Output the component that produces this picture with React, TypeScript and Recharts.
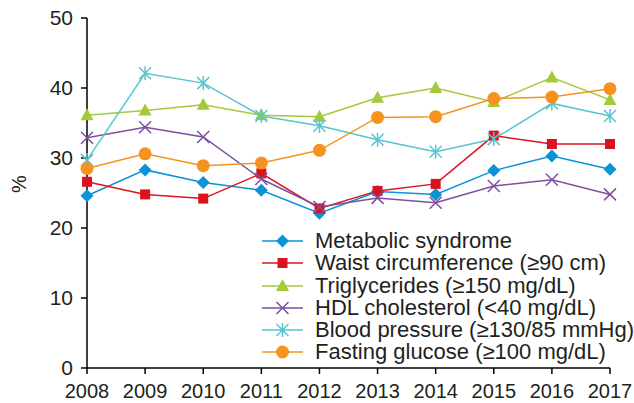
import { LineChart, Line, XAxis, YAxis } from 'recharts';

const years = [2008, 2009, 2010, 2011, 2012, 2013, 2014, 2015, 2016, 2017];
const yTicks = [0, 10, 20, 30, 40, 50];

const metabolic = [24.6, 28.3, 26.5, 25.4, 22.1, 25.2, 24.8, 28.2, 30.3, 28.4];
const waist = [26.6, 24.8, 24.2, 27.8, 22.8, 25.3, 26.3, 33.2, 32.0, 32.0];
const triglycerides = [36.1, 36.8, 37.6, 36.1, 35.9, 38.6, 40.0, 38.0, 41.5, 38.3];
const hdl = [32.9, 34.4, 33.0, 27.0, 23.0, 24.3, 23.6, 26.0, 26.9, 24.8];
const bloodPressure = [29.7, 42.1, 40.7, 36.0, 34.6, 32.6, 30.9, 32.7, 37.8, 36.0];
const glucose = [28.5, 30.6, 28.9, 29.3, 31.1, 35.8, 35.9, 38.5, 38.7, 39.9];

type Shape = 'diamond' | 'square' | 'triangle' | 'cross' | 'star' | 'circle';

const series: { key: string; name: string; color: string; shape: Shape; values: number[] }[] = [
  { key: 'metabolic', name: 'Metabolic syndrome', color: '#0a93d8', shape: 'diamond', values: metabolic },
  { key: 'waist', name: 'Waist circumference (≥90 cm)', color: '#d9141f', shape: 'square', values: waist },
  { key: 'tg', name: 'Triglycerides (≥150 mg/dL)', color: '#a4c93b', shape: 'triangle', values: triglycerides },
  { key: 'hdl', name: 'HDL cholesterol (<40 mg/dL)', color: '#7d4fa0', shape: 'cross', values: hdl },
  { key: 'bp', name: 'Blood pressure (≥130/85 mmHg)', color: '#56c5d0', shape: 'star', values: bloodPressure },
  { key: 'fg', name: 'Fasting glucose (≥100 mg/dL)', color: '#f6921e', shape: 'circle', values: glucose },
];

const data = years.map((year, i) => {
  const row: Record<string, number> = { year };
  series.forEach((s) => {
    row[s.key] = s.values[i];
  });
  return row;
});

const TEXT = '#231f20';
const FONT = '"Liberation Sans", Arial, sans-serif';

function Marker({ shape, cx, cy, color }: { shape: Shape; cx: number; cy: number; color: string }) {
  switch (shape) {
    case 'diamond':
      return <polygon points={`${cx},${cy - 6.5} ${cx + 6.5},${cy} ${cx},${cy + 6.5} ${cx - 6.5},${cy}`} fill={color} />;
    case 'square':
      return <rect x={cx - 5} y={cy - 5} width={10} height={10} fill={color} />;
    case 'triangle':
      return <polygon points={`${cx},${cy - 7} ${cx + 6.5},${cy + 5} ${cx - 6.5},${cy + 5}`} fill={color} />;
    case 'cross':
      return (
        <g stroke={color} strokeWidth={1.5}>
          <line x1={cx - 6} y1={cy - 6} x2={cx + 6} y2={cy + 6} />
          <line x1={cx - 6} y1={cy + 6} x2={cx + 6} y2={cy - 6} />
        </g>
      );
    case 'star':
      return (
        <g stroke={color} strokeWidth={1.5}>
          <line x1={cx - 6} y1={cy - 6} x2={cx + 6} y2={cy + 6} />
          <line x1={cx - 6} y1={cy + 6} x2={cx + 6} y2={cy - 6} />
          <line x1={cx} y1={cy - 7} x2={cx} y2={cy + 7} />
        </g>
      );
    default:
      return <circle cx={cx} cy={cy} r={6.5} fill={color} />;
  }
}

// legend sits inside the plot, bottom right
function ChartLegend() {
  return (
    <div style={{ position: 'absolute', left: 262, top: 230, fontFamily: FONT, fontSize: 22, color: TEXT, lineHeight: 1 }}>
      {series.map((s) => (
        <div key={s.key} style={{ display: 'flex', alignItems: 'center', height: 22.25 }}>
          <svg width={53} height={20} style={{ flex: 'none' }}>
            <line x1={0} y1={10} x2={41} y2={10} stroke={s.color} strokeWidth={1.5} />
            <Marker shape={s.shape} cx={20.5} cy={10} color={s.color} />
          </svg>
          <span style={{ whiteSpace: 'nowrap' }}>{s.name}</span>
        </div>
      ))}
    </div>
  );
}

export default function App() {
  return (
    <div style={{ position: 'absolute', left: 0, top: 0, width: 634, height: 403, background: '#fff' }}>
      <LineChart width={634} height={403} data={data} margin={{ top: 18, right: 24, bottom: 0, left: 27 }}>
        <XAxis
          dataKey="year"
          type="number"
          domain={[2008, 2017]}
          ticks={years}
          interval={0}
          height={35}
          tick={{ fill: TEXT, fontSize: 20, fontFamily: FONT }}
          tickSize={6}
          tickMargin={10}
          axisLine={{ stroke: '#000', strokeWidth: 1.5 }}
          tickLine={{ stroke: '#000', strokeWidth: 1.5 }}
        />
        <YAxis
          domain={[0, 50]}
          ticks={yTicks}
          interval={0}
          width={60}
          tick={{ fill: TEXT, fontSize: 21, fontFamily: FONT }}
          tickSize={6}
          tickMargin={8}
          axisLine={{ stroke: '#000', strokeWidth: 1.5 }}
          tickLine={{ stroke: '#000', strokeWidth: 1.5 }}
          label={{ value: '%', angle: -90, position: 'insideLeft', offset: -8, fill: TEXT, fontSize: 20, fontFamily: FONT }}
        />
        {series.map((s) => (
          <Line
            key={s.key}
            dataKey={s.key}
            name={s.name}
            stroke={s.color}
            strokeWidth={1.5}
            isAnimationActive={false}
            dot={(props: any) => (
              <g key={`${s.key}-${props.index}`}>
                <Marker shape={s.shape} cx={props.cx} cy={props.cy} color={s.color} />
              </g>
            )}
            activeDot={false}
          />
        ))}
      </LineChart>
      <ChartLegend />
    </div>
  );
}
